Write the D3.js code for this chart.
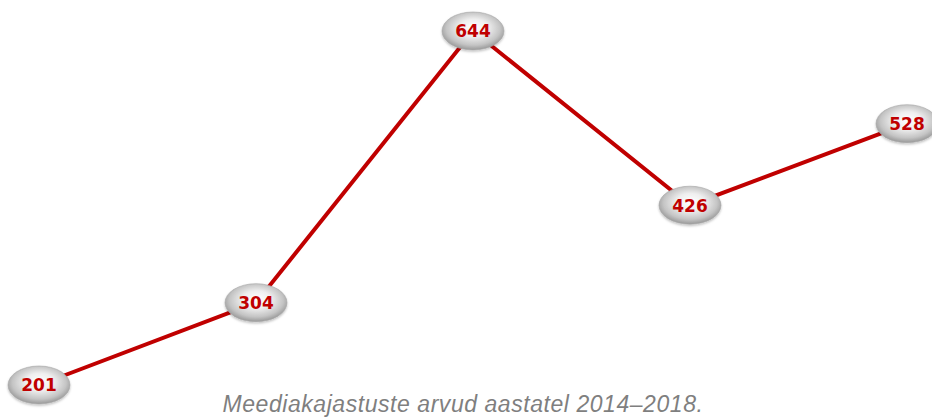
<!DOCTYPE html>
<html><head><meta charset="utf-8">
<script src="https://cdn.jsdelivr.net/npm/d3@7"></script>
<style>html,body{margin:0;padding:0;background:#fff;}svg{display:block;}</style>
</head><body>
<svg id="c" width="932" height="420"></svg>
<script>
const years = ["2014","2015","2016","2017","2018"];
const values = [201, 304, 644, 426, 528];
const caption = "Meediakajastuste arvud aastatel 2014–2018.";

const svg = d3.select("#c");
const x = d3.scalePoint().domain(years).range([39, 907]);
const y = d3.scaleLinear().domain([201, 644]).range([385, 31]);

const defs = svg.append("defs");
const g = defs.append("radialGradient").attr("id","silver")
  .attr("cx","50%").attr("cy","45%").attr("r","58%").attr("fx","52%").attr("fy","40%");
g.append("stop").attr("offset","0%").attr("stop-color","#ffffff");
g.append("stop").attr("offset","40%").attr("stop-color","#eeeeee");
g.append("stop").attr("offset","75%").attr("stop-color","#c4c4c4");
g.append("stop").attr("offset","100%").attr("stop-color","#8e8e8e");
const f = defs.append("filter").attr("id","sh").attr("x","-30%").attr("y","-30%").attr("width","160%").attr("height","170%");
f.append("feDropShadow").attr("dx",0).attr("dy",1.5).attr("stdDeviation",1.2).attr("flood-color","#000").attr("flood-opacity",0.25);

const data = years.map((yr,i)=>({yr, v: values[i]}));

svg.append("path").datum(data)
  .attr("d", d3.line().x(d=>x(d.yr)).y(d=>y(d.v)))
  .attr("fill","none").attr("stroke","#c00000").attr("stroke-width",4);

const m = svg.selectAll("g.m").data(data).join("g").attr("class","m")
  .attr("transform", d=>`translate(${x(d.yr)},${y(d.v)})`);
m.append("ellipse").attr("rx",31).attr("ry",19).attr("fill","url(#silver)")
  .attr("stroke","#a8a8a8").attr("stroke-width",0.6).attr("filter","url(#sh)");
m.append("text").text(d=>d.v).attr("text-anchor","middle").attr("dy","0.37em")
  .attr("font-family","'DejaVu Sans', sans-serif").attr("font-weight","bold")
  .attr("font-size",17).attr("fill","#c00000");

svg.append("text").text(caption).attr("x",463).attr("y",412)
  .attr("text-anchor","middle").attr("font-family","'Liberation Sans', Arial, sans-serif")
  .attr("font-style","italic").attr("font-size",23).attr("letter-spacing",0.55).attr("fill","#7f7f7f");
</script>
</body></html>
